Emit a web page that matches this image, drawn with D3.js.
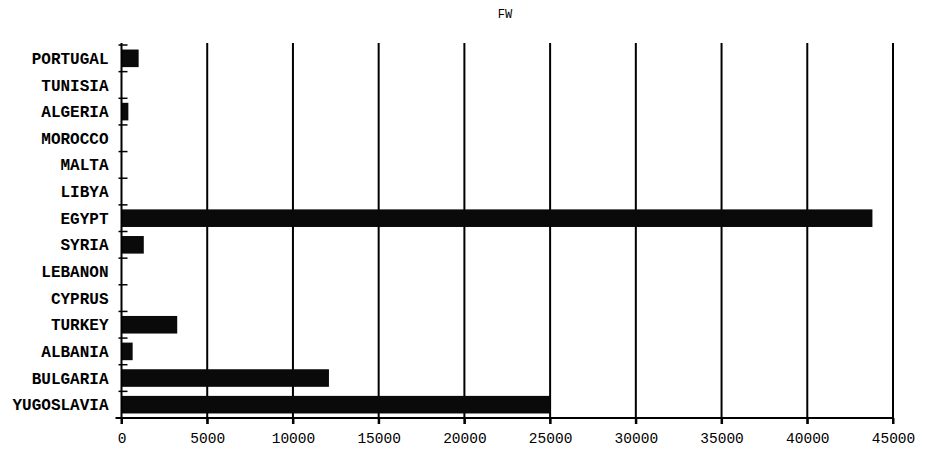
<!DOCTYPE html>
<html>
<head>
<meta charset="utf-8">
<script src="https://cdn.jsdelivr.net/npm/d3@7"></script>
<style>
  body { margin: 0; background: #fff; }
  text { font-family: "Liberation Mono", "DejaVu Sans Mono", monospace; fill: #000; }
</style>
</head>
<body>
<div id="chart"></div>
<script>
const width = 925;
const height = 451;

const countries = ['PORTUGAL', 'TUNISIA', 'ALGERIA', 'MOROCCO', 'MALTA', 'LIBYA', 'EGYPT',
    'SYRIA', 'LEBANON', 'CYPRUS', 'TURKEY', 'ALBANIA', 'BULGARIA', 'YUGOSLAVIA'];
const values = [1000, 0, 400, 0, 0, 0, 43800, 1300, 0, 0, 3250, 650, 12100, 25000];
const xTicks = [0, 5000, 10000, 15000, 20000, 25000, 30000, 35000, 40000, 45000];

const margin = { top: 45, right: 32, bottom: 33, left: 121.5 };

const svg = d3.select('#chart')
    .append('svg')
    .attr('width', width)
    .attr('height', height);

const x = d3.scaleLinear()
    .domain([0, 45000])
    .range([margin.left, width - margin.right]);

const y = d3.scaleBand()
    .domain(countries)
    .range([margin.top, height - margin.bottom])
    .paddingInner(0.34)
    .paddingOuter(0.17);

const bottom = height - margin.bottom;

// titulo
svg.append('text')
    .attr('x', 505)
    .attr('y', 18)
    .attr('text-anchor', 'middle')
    .attr('font-size', 12)
    .text('FW');

// linhas de grade verticais
svg.selectAll('.grid')
    .data(xTicks.slice(1))
    .enter().append('line')
    .attr('class', 'grid')
    .attr('x1', d => x(d))
    .attr('x2', d => x(d))
    .attr('y1', margin.top - 2)
    .attr('y2', bottom + 6)
    .attr('stroke', '#000')
    .attr('stroke-width', 2);

// barras
svg.selectAll('.bar')
    .data(countries.map((c, i) => ({ c, v: values[i] })).filter(d => d.v > 0))
    .enter().append('rect')
    .attr('class', 'bar')
    .attr('x', x(0))
    .attr('y', d => y(d.c))
    .attr('width', d => x(d.v) - x(0))
    .attr('height', y.bandwidth())
    .attr('fill', '#0a0a0a');

// eixo x
const xAxis = svg.append('g')
    .attr('transform', `translate(0,${bottom})`)
    .call(d3.axisBottom(x).tickValues(xTicks).tickSize(6).tickPadding(9).tickFormat(d3.format('d')));
xAxis.select('.domain').remove();
xAxis.selectAll('line').attr('stroke', '#000').attr('stroke-width', 2);
xAxis.selectAll('text')
    .attr('font-size', 14.5)
    .attr('font-family', '"Liberation Mono", monospace');

svg.append('line')
    .attr('x1', margin.left - 6)
    .attr('x2', width - margin.right + 1)
    .attr('y1', bottom)
    .attr('y2', bottom)
    .attr('stroke', '#000')
    .attr('stroke-width', 2);

// eixo y
svg.append('line')
    .attr('x1', margin.left)
    .attr('x2', margin.left)
    .attr('y1', margin.top - 2)
    .attr('y2', bottom + 6)
    .attr('stroke', '#000')
    .attr('stroke-width', 2);

const step = y.step();
const bounds = countries.map(c => y(c) - step * 0.17);
svg.selectAll('.ytick')
    .data(bounds)
    .enter().append('line')
    .attr('class', 'ytick')
    .attr('x1', margin.left - 3)
    .attr('x2', margin.left + 6)
    .attr('y1', d => d)
    .attr('y2', d => d)
    .attr('stroke', '#000')
    .attr('stroke-width', 1.5);

svg.selectAll('.ylabel')
    .data(countries)
    .enter().append('text')
    .attr('class', 'ylabel')
    .attr('x', margin.left - 13)
    .attr('y', d => y(d) + y.bandwidth() / 2)
    .attr('dy', '0.35em')
    .attr('text-anchor', 'end')
    .attr('font-size', 16)
    .attr('font-weight', 'bold')
    .text(d => d);
</script>
</body>
</html>
